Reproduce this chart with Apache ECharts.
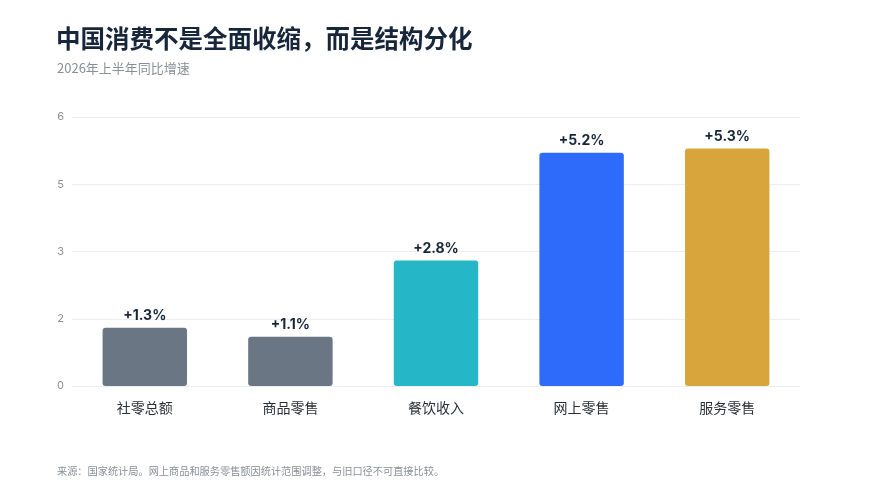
<!DOCTYPE html>
<html>
<head>
<meta charset="utf-8">
<script src="https://cdn.jsdelivr.net/npm/echarts@6/dist/echarts.min.js"></script>
<style>
  html, body { margin: 0; padding: 0; background: #fff; }
  #chart { width: 874px; height: 496px; }
</style>
</head>
<body>
<div id="chart"></div>
<script>
// 数据
var categories = ['社零总额', '商品零售', '餐饮收入', '网上零售', '服务零售'];
var values = [1.3, 1.1, 2.8, 5.2, 5.3];
var barColors = ['#6b7684', '#6b7684', '#25b6c7', '#2f6bfa', '#d8a53c'];

var FONT = '"Noto Sans CJK SC", "Noto Sans", sans-serif';
var NUM_FONT = 'Inter, "Noto Sans CJK SC", sans-serif';

var chart = echarts.init(document.getElementById('chart'));

var option = {
    backgroundColor: '#fff',
    textStyle: { fontFamily: FONT },
    title: [
        {
            text: '中国消费不是全面收缩，而是结构分化',
            left: 51,
            top: 21,
            textStyle: { fontSize: 24.5, fontWeight: 'bold', color: '#17263a', fontFamily: FONT }
        },
        {
            text: '2026年上半年同比增速',
            left: 52,
            top: 57,
            textStyle: { fontSize: 13, fontWeight: 'normal', color: '#8a8f96', fontFamily: FONT }
        },
        {
            text: '来源：国家统计局。网上商品和服务零售额因统计范围调整，与旧口径不可直接比较。',
            left: 52,
            top: 461,
            textStyle: { fontSize: 10.2, fontWeight: 'normal', color: '#8a8f96', fontFamily: FONT }
        }
    ],
    grid: {
        left: 72,
        right: 74,
        top: 117,
        bottom: 110
    },
    xAxis: {
        type: 'category',
        data: categories,
        axisLine: { show: false },
        axisTick: { show: false },
        axisLabel: { color: '#2a2f36', fontSize: 14, margin: 15, fontFamily: FONT }
    },
    yAxis: {
        type: 'value',
        min: 0,
        max: 6,
        interval: 1.5,
        axisLine: { show: false },
        axisTick: { show: false },
        axisLabel: {
            color: '#8a8f96',
            fontSize: 11,
            margin: 8,
            fontFamily: NUM_FONT,
            formatter: function (v) { return Math.round(v).toString(); }
        },
        splitLine: { lineStyle: { color: '#eceef1', width: 1 } }
    },
    series: [{
        type: 'bar',
        barWidth: '58%',
        data: values.map(function (v, i) {
            return { value: v, itemStyle: { color: barColors[i], borderRadius: 3 } };
        }),
        label: {
            show: true,
            position: 'top',
            distance: 5,
            color: '#17263a',
            fontSize: 14,
            fontWeight: 'bold',
            fontFamily: NUM_FONT,
            formatter: function (p) { return '+' + p.value.toFixed(1) + '%'; }
        }
    }]
};

chart.setOption(option);
</script>
</body>
</html>
